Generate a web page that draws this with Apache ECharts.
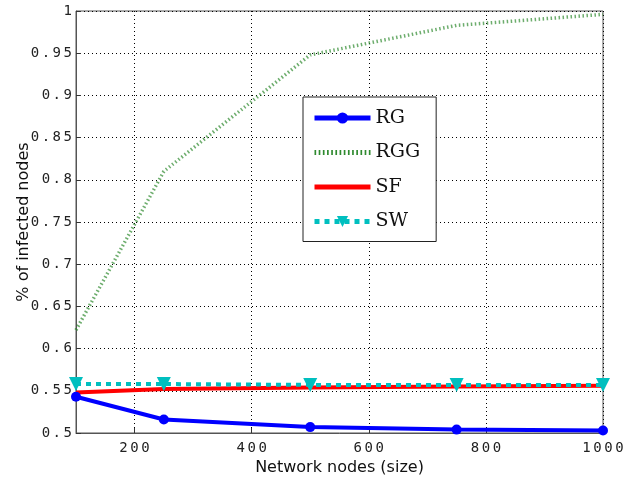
<!DOCTYPE html>
<html>
<head>
<meta charset="utf-8">
<script src="https://cdn.jsdelivr.net/npm/echarts@6/dist/echarts.min.js"></script>
<style>
  html, body { margin: 0; padding: 0; background: #fff; }
  #chart { width: 627px; height: 480px; }
</style>
</head>
<body>
<div id="chart"></div>
<script>
const sizes = [100, 250, 500, 750, 1000]
const xTicks = [200, 400, 600, 800, 1000]
const rg = [0.543, 0.516, 0.507, 0.504, 0.503]
const rgg = [0.622, 0.81, 0.948, 0.983, 0.996]
const sf = [0.548, 0.552, 0.554, 0.555, 0.556]
const sw = [0.558, 0.558, 0.557, 0.557, 0.557]

const pairs = ys => sizes.map((x, i) => [x, ys[i]])
// wide-spaced tick labels, like the original plot
const spaced = s => s.split('').join('{s| }')
const gridDots = { show: true, lineStyle: { color: '#000', type: [1, 3], width: 1 } }
const labelFont = {
    color: '#222', fontFamily: 'DejaVu Sans Mono', fontSize: 14,
    rich: { s: { fontFamily: 'DejaVu Sans', fontSize: 8 } }
}
// legend icons for the lines that have no markers
let dots = ''
for (let i = 0; i < 14; i++) dots += 'M' + (i * 4) + ',0h1.6v5h-1.6z'
const rggIcon = 'path://' + dots
const sfIcon = 'path://M0,0h56v5h-56z'

const chart = echarts.init(document.getElementById('chart'))
chart.setOption({
    animation: false,
    grid: {
        left: 76, right: 24, top: 11, bottom: 47,
        outerBoundsMode: 'none', containLabel: false,
        show: true, borderColor: '#555', borderWidth: 1
    },
    legend: {
        orient: 'vertical',
        left: 303, top: 97,
        padding: [11, 16, 10, 9],
        itemWidth: 56, itemHeight: 14, itemGap: 14.5,
        backgroundColor: '#fff',
        borderColor: '#222', borderWidth: 1,
        textStyle: { fontFamily: 'DejaVu Serif', fontSize: 19, lineHeight: 20, color: '#111' },
        data: [
            { name: 'RG', lineStyle: { width: 5 } },
            { name: 'RGG', icon: rggIcon },
            { name: 'SF', icon: sfIcon },
            { name: 'SW', lineStyle: { width: 5 } }
        ]
    },
    xAxis: {
        type: 'value', min: 100, max: 1000,
        name: 'Network nodes (size)', nameLocation: 'middle', nameGap: 26,
        nameTextStyle: { fontFamily: 'DejaVu Sans', fontSize: 16, color: '#111' },
        axisLine: { lineStyle: { color: '#555' } },
        axisTick: { inside: true, length: 5, customValues: xTicks, lineStyle: { color: '#333' } },
        axisLabel: Object.assign({ customValues: xTicks, margin: 8, formatter: v => spaced(String(v)) }, labelFont),
        splitLine: gridDots
    },
    yAxis: {
        type: 'value', min: 0.5, max: 1, interval: 0.05,
        name: '% of infected nodes', nameLocation: 'middle', nameGap: 44,
        nameMoveOverlap: false,
        nameTextStyle: { fontFamily: 'DejaVu Sans', fontSize: 16, color: '#111' },
        axisLine: { show: true, lineStyle: { color: '#555' } },
        axisTick: { show: true, inside: true, length: 5, lineStyle: { color: '#333' } },
        axisLabel: Object.assign({ margin: 4, formatter: v => spaced(String(parseFloat(v.toFixed(2)))) }, labelFont),
        splitLine: gridDots
    },
    series: [
        {
            name: 'RG', type: 'line', data: pairs(rg),
            color: '#0000ff', symbol: 'circle', symbolSize: 10,
            lineStyle: { width: 4 }, z: 3
        },
        {
            name: 'RGG', type: 'line', data: pairs(rgg),
            color: '#2f8a2f', showSymbol: false,
            lineStyle: { width: 3.5, type: [1.5, 2.5], opacity: 0.7 }
        },
        {
            name: 'SF', type: 'line', data: pairs(sf),
            color: '#ff0000', showSymbol: false,
            lineStyle: { width: 4 }
        },
        {
            name: 'SW', type: 'line', data: pairs(sw),
            color: '#00bfbf', symbol: 'triangle', symbolRotate: 180, symbolSize: 14,
            lineStyle: { width: 4, type: [5, 5] }, z: 4
        }
    ]
})
</script>
</body>
</html>
